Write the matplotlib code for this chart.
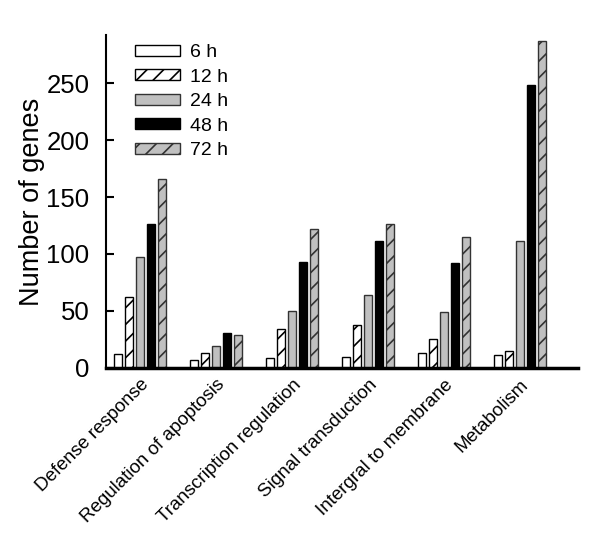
import numpy as np
import matplotlib
matplotlib.use('Agg')
import matplotlib.pyplot as plt

plt.rcParams['font.family'] = ['Liberation Sans', 'DejaVu Sans']
plt.rcParams['hatch.linewidth'] = 1.2

categories = ['Defense response', 'Regulation of apoptosis', 'Transcription regulation',
              'Signal transduction', 'Intergral to membrane', 'Metabolism']
series = ['6 h', '12 h', '24 h', '48 h', '72 h']
h6 = [12, 7, 9, 10, 13, 11]
h12 = [62, 13, 34, 38, 25, 15]
h24 = [97, 19, 50, 64, 49, 111]
h48 = [126, 31, 93, 111, 92, 248]
h72 = [166, 29, 122, 126, 115, 287]

values = [h6, h12, h24, h48, h72]
faces = ['white', 'white', '#c0c0c0', 'black', '#c0c0c0']
edges = ['black', 'black', '#333333', 'black', '#333333']
hatches = [None, '//', None, None, '//']

fig = plt.figure(figsize=(6, 5.34), dpi=100)
ax = fig.add_axes([0.177, 0.311, 0.786, 0.623])

x = np.arange(len(categories))
slot = 0.145
w = 0.105
for i in range(len(series)):
    ax.bar(x + (i - 2) * slot, values[i], width=w, color=faces[i], edgecolor=edges[i],
           hatch=hatches[i], linewidth=1.0, label=series[i])

ax.set_xlim(-0.45, 5.76)
ax.set_ylim(0, 292)
ax.set_yticks([0, 50, 100, 150, 200, 250])
ax.tick_params(axis='y', direction='in', length=6, width=1.5, labelsize=18.5, pad=12)
ax.set_xticks(x)
ax.set_xticklabels(categories, rotation=45, ha='right', rotation_mode='anchor', fontsize=13.5)
ax.tick_params(axis='x', length=0, pad=6)
ax.set_ylabel('Number of genes', fontsize=19.5, labelpad=1)

for s in ['top', 'right']:
    ax.spines[s].set_visible(False)
ax.spines['left'].set_linewidth(1.5)
ax.spines['bottom'].set_linewidth(2.5)

ax.legend(loc='upper left', bbox_to_anchor=(0.025, 1.025), frameon=False, fontsize=14,
          handlelength=2.3, handleheight=0.5, labelspacing=0.38, handletextpad=0.5)

fig.savefig('out.png', dpi=100)
